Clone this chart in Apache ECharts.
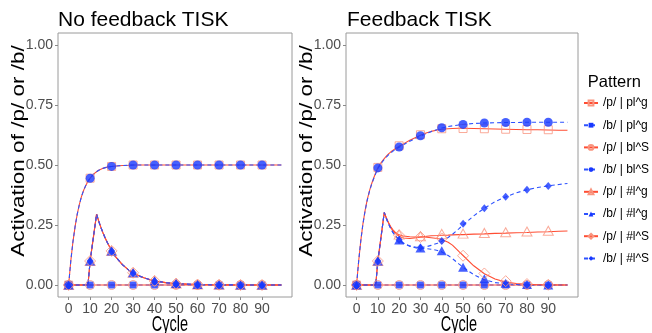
<!DOCTYPE html>
<html><head><meta charset="utf-8">
<script src="https://cdn.jsdelivr.net/npm/echarts@6/dist/echarts.min.js"></script>
<style>html,body{margin:0;padding:0;background:#fff}#c{width:652px;height:333px}</style>
</head><body><div id="c"></div><script>
const patterns = ['/p/ | pl^g','/b/ | pl^g','/p/ | bl^S','/b/ | bl^S','/p/ | #l^g','/b/ | #l^g','/p/ | #l^S','/b/ | #l^S'];
const panelTitles = ['No feedback TISK','Feedback TISK'];
const xTicks = [0,10,20,30,40,50,60,70,80,90];
const yTicks = [0,0.25,0.5,0.75,1];
const lineCycles = [0,1,2,3,4,5,6,7,8,9,10,11,12,13,14,15,16,17,18,20,22,25,28,30,33,35,38,40,43,45,48,50,55,60,65,70,75,80,85,90,95,99];
const markerCycles = [0,10,20,30,40,50,60,70,80,90];

// No feedback panel
const leftRise = [0,0.1,0.18,0.243,0.295,0.336,0.369,0.395,0.415,0.432,0.445,0.456,0.465,0.472,0.478,0.482,0.486,0.489,0.491,
  0.494,0.496,0.498,0.499,0.5, 0.5,0.5,0.5,0.5, 0.5,0.5,0.5,0.5, 0.5,0.5,0.5,0.5,0.5,0.5,0.5,0.5,0.5,0.5];
const leftPeak = [0,0,0,0,0,0,0,0,0,0,0.1,0.165,0.23,0.295,0.266,0.24,0.217,0.196,0.177,
  0.143,0.116,0.085,0.062,0.05, 0.037,0.03,0.022,0.017, 0.013,0.01,0.007,0.006, 0.0035,0.002,0.001,0.0007,0.0004,0.0002,0.0001,0,0,0];
const zeroLine = [0,0,0,0,0,0,0,0,0,0,0,0,0,0,0,0,0,0,0,0,0,0,0,0,0,0,0,0,0,0,0,0,0,0,0,0,0,0,0,0,0,0];
const leftRiseMarks = [0,0.445,0.494,0.5,0.5,0.5,0.5,0.5,0.5,0.5];
const leftPeakMarks = [0,0.1,0.142,0.051,0.017,0.006,0.002,0.001,0,0];
const zeroMarks = [0,0,0,0,0,0,0,0,0,0];

// Feedback panel
const rightPplg = [0,0.1,0.185,0.255,0.31,0.355,0.39,0.42,0.445,0.468,0.488,0.503,0.515,0.527,0.537,0.546,0.554,0.561,0.567,
  0.578,0.588,0.603,0.616,0.624, 0.634,0.64,0.646,0.649, 0.651,0.652,0.653,0.653, 0.652,0.651,0.65,0.649,0.648,0.647,0.647,0.646,0.645,0.645];
const rightBblS = [0,0.1,0.185,0.254,0.308,0.353,0.388,0.417,0.442,0.464,0.484,0.499,0.512,0.523,0.533,0.542,0.55,0.557,0.563,
  0.574,0.584,0.599,0.612,0.62, 0.632,0.639,0.648,0.654, 0.66,0.663,0.667,0.669, 0.673,0.675,0.676,0.677,0.677,0.678,0.678,0.678,0.678,0.678];
const rightPlg = [0,0,0,0,0,0,0,0,0,0,0.1,0.167,0.234,0.302,0.278,0.258,0.24,0.226,0.216,
  0.203,0.196,0.194,0.197,0.2, 0.203,0.205,0.206,0.207, 0.208,0.209,0.21,0.21, 0.212,0.213,0.215,0.216,0.218,0.219,0.221,0.222,0.224,0.225];
const rightBlg = [0,0,0,0,0,0,0,0,0,0,0.1,0.167,0.234,0.302,0.277,0.255,0.236,0.22,0.207,
  0.188,0.174,0.161,0.154,0.152, 0.151,0.149,0.144,0.138, 0.123,0.11,0.088,0.074, 0.043,0.022,0.01,0.005,0.002,0.001,0,0,0,0];
const rightPlS = [0,0,0,0,0,0,0,0,0,0,0.1,0.167,0.234,0.302,0.279,0.26,0.244,0.231,0.221,
  0.209,0.204,0.201,0.2,0.2, 0.199,0.197,0.194,0.19, 0.178,0.166,0.14,0.123, 0.08,0.047,0.025,0.012,0.006,0.003,0.001,0.001,0,0];
const rightBlS = [0,0,0,0,0,0,0,0,0,0,0.1,0.167,0.234,0.302,0.277,0.255,0.236,0.22,0.207,
  0.188,0.175,0.163,0.157,0.156, 0.16,0.165,0.174,0.182, 0.198,0.211,0.234,0.25, 0.288,0.32,0.347,0.367,0.384,0.397,0.406,0.413,0.419,0.423];
const rightPplgMarks = [0,0.49,0.58,0.626,0.651,0.652,0.651,0.649,0.648,0.647];
const rightBblSMarks = [0,0.488,0.575,0.622,0.655,0.669,0.675,0.677,0.678,0.678];
const rightPlgMarks = [0,0.1,0.21,0.203,0.213,0.214,0.217,0.22,0.223,0.226];
const rightBlgMarks = [0,0.1,0.187,0.154,0.143,0.074,0.026,0.007,0.002,0];
const rightPlSMarks = [0,0.1,0.207,0.2,0.194,0.122,0.048,0.016,0.004,0.001];
const rightBlSMarks = [0,0.1,0.188,0.156,0.183,0.255,0.32,0.368,0.397,0.413];

const panelLines = [
  [leftRise, zeroLine, zeroLine, leftRise, leftPeak, leftPeak, leftPeak, leftPeak],
  [rightPplg, zeroLine, zeroLine, rightBblS, rightPlg, rightBlg, rightPlS, rightBlS]
];
const panelMarks = [
  [leftRiseMarks, zeroMarks, zeroMarks, leftRiseMarks, leftPeakMarks, leftPeakMarks, leftPeakMarks, leftPeakMarks],
  [rightPplgMarks, zeroMarks, zeroMarks, rightBblSMarks, rightPlgMarks, rightBlgMarks, rightPlSMarks, rightBlSMarks]
];

// styling
const RED_LINE = '#ff4d33', RED_MARK = '#f9957f', BLUE_LINE = '#2d52ff', BLUE_MARK = '#1838ff';
const styles = [
  {sym:'rect', size:8, open:true},
  {sym:'rect', size:7, open:false},
  {sym:'circle', size:9, open:true},
  {sym:'circle', size:9, open:false},
  {sym:'triangle', size:[10,9], open:true},
  {sym:'triangle', size:[10,9], open:false},
  {sym:'diamond', size:[11,11], open:true},
  {sym:'diamond', size:[7,8], open:false}
];
const SANS = "'Liberation Sans',Arial,sans-serif";

const grids = [
  {left:58, top:33, width:234, height:264},
  {left:346, top:33, width:232, height:264}
];

const option = {
  animation:false,
  backgroundColor:'#fff',
  grid: grids.map(g => Object.assign({show:true, borderColor:'#9a9a9a', borderWidth:1, backgroundColor:'#fff'}, g)),
  xAxis: grids.map((g,i) => ({
    gridIndex:i, type:'value', min:-4.95, max:103.95, position:'bottom',
    axisLine:{show:false, onZero:false}, splitLine:{show:false},
    axisTick:{show:true, length:3, lineStyle:{color:'#8a8a8a'}, customValues:xTicks},
    axisLabel:{show:true, customValues:xTicks, fontSize:14, color:'#4d4d4d', fontFamily:SANS, margin:5}
  })),
  yAxis: grids.map((g,i) => ({
    gridIndex:i, type:'value', min:-0.05, max:1.05, position:'left',
    axisLine:{show:false, onZero:false}, splitLine:{show:false},
    axisTick:{show:true, length:3, lineStyle:{color:'#8a8a8a'}, customValues:yTicks},
    axisLabel:{show:true, customValues:yTicks, fontSize:14, color:'#4d4d4d', fontFamily:SANS, margin:5,
      formatter: v => v.toFixed(2)}
  })),
  legend: {
    data: patterns, orient:'vertical', left:583, top:97, padding:0,
    itemWidth:14, itemHeight:6, itemGap:10.2,
    textStyle:{fontSize:12, color:'#000', fontFamily:SANS},
    selectedMode:false
  },
  graphic: [
    {type:'text', left:58, top:10, style:{text:panelTitles[0], font:'21px '+SANS, fill:'#000'}},
    {type:'text', left:347, top:10, style:{text:panelTitles[1], font:'21px '+SANS, fill:'#000'}},
    {type:'text', x:18.5, y:151, rotation:Math.PI/2, scaleY:0.85, style:{text:'Activation of /p/ or /b/', font:'22.5px '+SANS, fill:'#000', align:'center', verticalAlign:'middle'}},
    {type:'text', x:306.5, y:151, rotation:Math.PI/2, scaleY:0.85, style:{text:'Activation of /p/ or /b/', font:'22.5px '+SANS, fill:'#000', align:'center', verticalAlign:'middle'}},
    {type:'text', x:170, y:325, scaleX:0.66, style:{text:'Cycle', font:'22px '+SANS, fill:'#000', align:'center', verticalAlign:'middle'}},
    {type:'text', x:459, y:325, scaleX:0.66, style:{text:'Cycle', font:'22px '+SANS, fill:'#000', align:'center', verticalAlign:'middle'}},
    {type:'text', x:587.7, y:82, style:{text:'Pattern', font:'16.5px '+SANS, fill:'#000', verticalAlign:'middle'}}
  ],
  series: []
};

for (let p = 0; p < 2; p++) {
  patterns.forEach((name, k) => {
    const st = styles[k];
    const isP = name.startsWith('/p/');
    const itemStyle = st.open
      ? {color:'none', borderColor:RED_MARK, borderWidth:1}
      : {color:BLUE_MARK, borderWidth:0};
    option.series.push({
      type:'line', name, xAxisIndex:p, yAxisIndex:p, z:2,
      data: lineCycles.map((c, j) => [c, panelLines[p][k][j]]),
      showSymbol:false, symbol:st.sym, symbolSize:st.size,
      itemStyle,
      lineStyle: isP ? {color:RED_LINE, width:1.1, type:'solid'} : {color:BLUE_LINE, width:1.1, type:[4,3]},
      emphasis:{disabled:true}, silent:true
    });
  });
}
for (let p = 0; p < 2; p++) {
  patterns.forEach((name, k) => {
    const st = styles[k];
    const itemStyle = st.open
      ? {color:'none', borderColor:RED_MARK, borderWidth:1}
      : {color:BLUE_MARK, borderWidth:0};
    option.series.push({
      type:'scatter', name: name + ' points', xAxisIndex:p, yAxisIndex:p, z:3,
      data: markerCycles.map((c, j) => [c, panelMarks[p][k][j]]),
      symbol:st.sym, symbolSize:st.size, itemStyle,
      emphasis:{disabled:true}, silent:true
    });
  });
}

const chart = echarts.init(document.getElementById('c'), null, {renderer:'canvas'});
chart.setOption(option);
</script></body></html>
